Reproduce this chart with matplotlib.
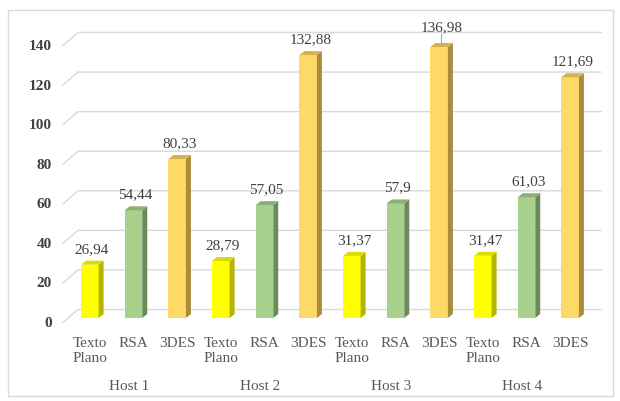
import matplotlib
matplotlib.use("Agg")
import matplotlib.pyplot as plt
from matplotlib.patches import Polygon, Rectangle
from matplotlib.transforms import ScaledTranslation
from matplotlib.lines import Line2D

hosts = ["Host 1", "Host 2", "Host 3", "Host 4"]
methods = ["Texto\nPlano", "RSA", "3DES"]
texto_plano = [26.94, 28.79, 31.37, 31.47]
rsa = [54.44, 57.05, 57.9, 61.03]
tdes = [80.33, 132.88, 136.98, 121.69]
yticks = [0, 20, 40, 60, 80, 100, 120, 140]

# front, side, top colours per series
colours = [
    ("#FFFF00", "#B5B500", "#DCDC00"),
    ("#A9D18E", "#6C8A58", "#8DB072"),
    ("#FFD966", "#A98C3C", "#D6B24C"),
]

plt.rcParams['font.family'] = ['Liberation Serif', 'DejaVu Serif']

fig = plt.figure(figsize=(6.2, 4.01), dpi=100)
W, H = 620, 401
ax = fig.add_axes([68 / W, 83 / H, 524 / W, 277 / H])
ax.patch.set_alpha(0)
ax.set_xlim(-0.5, 11.5)
ax.set_ylim(0, 140)
for s in ax.spines.values():
    s.set_visible(False)
ax.set_xticks([])
ax.set_yticks(yticks)
ax.tick_params(axis='y', length=0, pad=11.5, labelsize=11, labelcolor="#404040")
for lbl in ax.get_yticklabels():
    lbl.set_fontweight("bold")
    lbl.set_transform(lbl.get_transform() + ScaledTranslation(0, -4 / 100, fig.dpi_scale_trans))


def px(dx, dy):
    # data coords shifted by pixels
    return ax.transData + ScaledTranslation(dx / 100, dy / 100, fig.dpi_scale_trans)


def to_fig(pts):
    return [(p[0] / W, p[1] / H) for p in pts]


# outer frame
fig.add_artist(Rectangle((8 / W, 5 / H), 605 / W, 386 / H, transform=fig.transFigure,
                         fill=False, edgecolor="#D9D9D9", linewidth=1))

# back wall gridlines with the perspective stub on the left
slot = 524 / 12
x_front = -0.5 - 5 / slot
x_back = -0.5 + 10 / slot
x_end = -0.5 + 533 / slot
for v in yticks:
    p0 = ax.transData.transform((x_front, v)) + [0, -4.5]
    p1 = ax.transData.transform((x_back, v)) + [0, 8.5]
    p2 = ax.transData.transform((x_end, v)) + [0, 8.5]
    xs, ys = zip(*to_fig([p0, p1, p2]))
    fig.add_artist(Line2D(xs, ys, transform=fig.transFigure, color="#D9D9D9",
                          linewidth=1, zorder=0))

series = [texto_plano, rsa, tdes]
bw = 17.5 / slot
dx, dy = 5, 4
for h in range(len(hosts)):
    for s in range(3):
        i = h * 3 + s
        v = series[s][h]
        front, side, top = colours[s]
        ax.bar(i, v, width=bw, color=front, zorder=3)
        l, r = i - bw / 2, i + bw / 2
        pl = ax.transData.transform((l, v))
        pr = ax.transData.transform((r, v))
        pb = ax.transData.transform((r, 0))
        side_pts = [pb, pr, pr + [dx, dy], pb + [dx, dy]]
        top_pts = [pl, pr, pr + [dx, dy], pl + [dx, dy]]
        for pts, c in ((side_pts, side), (top_pts, top)):
            fig.add_artist(Polygon(to_fig(pts), closed=True, transform=fig.transFigure,
                                   facecolor=c, edgecolor="none", zorder=4))
        lift = 12
        if s == 2 and h == 2:
            # label pushed up with a leader line
            lift = 16
            pt = ax.transData.transform((i + 0.05, v))
            fig.add_artist(Line2D([pt[0] / W, pt[0] / W], [(pt[1] + 4) / H, (pt[1] + 13) / H],
                                  transform=fig.transFigure, color="#A6A6A6", linewidth=0.8))
        ax.annotate(f"{v:g}".replace(".", ","), (i + 0.05, v), xytext=(0, lift * 0.72),
                    textcoords="offset points", ha="center", va="baseline",
                    fontsize=11, color="#404040", annotation_clip=False)
        ax.text(i, 0, methods[s], transform=px(0, -19), ha="center", va="top",
                fontsize=11, color="#595959", linespacing=1.2)
    ax.text(h * 3 + 1, 0, hosts[h], transform=px(-4, -62), ha="center", va="top",
            fontsize=11, color="#595959")

fig.savefig("out.png", dpi=100)
